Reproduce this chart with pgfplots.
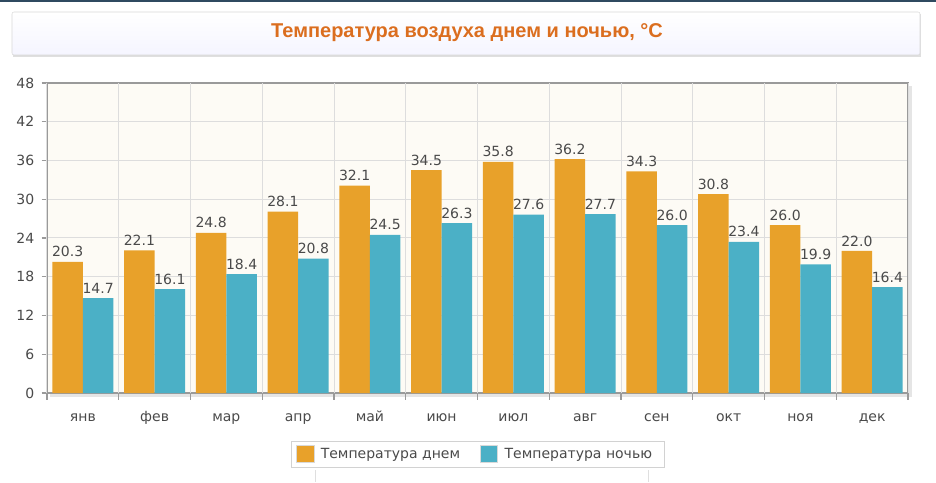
\documentclass[border=0pt]{standalone}
\usepackage{pgfplots}
\pgfplotsset{compat=1.18}
\usepackage{fontspec}
\setmainfont{DejaVu Sans}
\newfontfamily\titlefont{Liberation Sans}
\definecolor{dayc}{HTML}{E8A12A}
\definecolor{nightc}{HTML}{4BB0C6}
\definecolor{titlec}{HTML}{DB6E1F}
\definecolor{txt}{HTML}{4A4A4A}
\definecolor{gridc}{HTML}{DDDDDD}
\definecolor{framec}{HTML}{9A9A9A}
\definecolor{plotbg}{HTML}{FDFBF5}
\definecolor{topline}{HTML}{2F4A60}
\pgfplotstableread{
x day night
0 20.3 14.7
1 22.1 16.1
2 24.8 18.4
3 28.1 20.8
4 32.1 24.5
5 34.5 26.3
6 35.8 27.6
7 36.2 27.7
8 34.3 26.0
9 30.8 23.4
10 26.0 19.9
11 22.0 16.4
}\temps
\begin{document}
\begin{tikzpicture}
\begin{scope}[x=0.75pt,y=0.75pt]
% canvas 936 x 482 px, y upwards
\fill[white] (0,0) rectangle (936,482);
\fill[topline] (0,480) rectangle (936,482);
% title box
\fill[gray!25] (13,425) rectangle (921,468);
\shade[top color=white,bottom color=blue!4!white,draw=gray!30,rounded corners=1.5pt] (12,427) rectangle (920,470);
\node[font=\titlefont\bfseries\fontsize{15}{18}\selectfont,text=titlec] at (467,449) {Температура воздуха днем и ночью, °C};
% bottom decoration
\draw[gray!25] (315,0) -- (315,12);
\draw[gray!25] (648,0) -- (648,12);
% shadow of plot area
\fill[gray!20] (909,86) rectangle (912,396);
\fill[gray!20] (50,85) rectangle (912,88);
\end{scope}
\begin{axis}[
  at={(35.25pt,66.75pt)}, anchor=south west,
  scale only axis,
  width=645.75pt, height=232.5pt,
  xmin=-0.5, xmax=11.5, ymin=0, ymax=48,
  axis background/.style={fill=plotbg},
  axis line style={draw=framec,line width=1.1pt},
  ybar, bar width=22.9pt,
  ytick={0,6,...,48},
  xtick={0,...,11},
  xticklabels={янв,фев,мар,апр,май,июн,июл,авг,сен,окт,ноя,дек},
  extra x ticks={-0.5,0.5,1.5,2.5,3.5,4.5,5.5,6.5,7.5,8.5,9.5,10.5,11.5},
  extra x tick labels={},
  extra x tick style={grid=major, major grid style={draw=gridc,line width=0.75pt},
     major tick length=5pt, xtick style={draw=framec,line width=0.8pt}},
  ymajorgrids=true,
  grid style={draw=gridc,line width=0.75pt},
  xtick style={draw=none},
  xtick pos=bottom, ytick pos=left,
  tick align=outside,
  major tick length=4pt,
  ytick style={draw=framec,line width=0.8pt},
  /pgf/number format/assume math mode=true,
  tick label style={font=\fontsize{10.5}{12}\selectfont,text=txt},
  xticklabel style={yshift=-5pt, text height=1.6ex, text depth=0.3ex},
  yticklabel style={xshift=-2pt},
  nodes near coords,
  nodes near coords style={font=\fontsize{10.5}{12}\selectfont,text=txt,
     /pgf/number format/.cd,fixed,fixed zerofill,precision=1,assume math mode=true},
  enlarge x limits=false,
  clip=false,
  legend columns=2,
  legend style={at={(0.5,-0.197)},anchor=center,draw=gray!35,
     font=\fontsize{10.5}{12}\selectfont,text=txt,
     /tikz/every even column/.append style={column sep=10pt},
     nodes={inner xsep=5pt},
     inner xsep=4pt, inner ysep=3pt},
  legend image code/.code={\fill[#1,draw=white!85!black] (0pt,-6.5pt) rectangle (13pt,6.5pt);},
]
\addplot[fill=dayc,draw=none,bar shift=-11.45pt] table[x=x,y=day]{\temps};
\addplot[fill=nightc,draw=none,bar shift=11.45pt] table[x=x,y=night]{\temps};
\legend{Температура днем,Температура ночью}
\end{axis}
\end{tikzpicture}
\end{document}
